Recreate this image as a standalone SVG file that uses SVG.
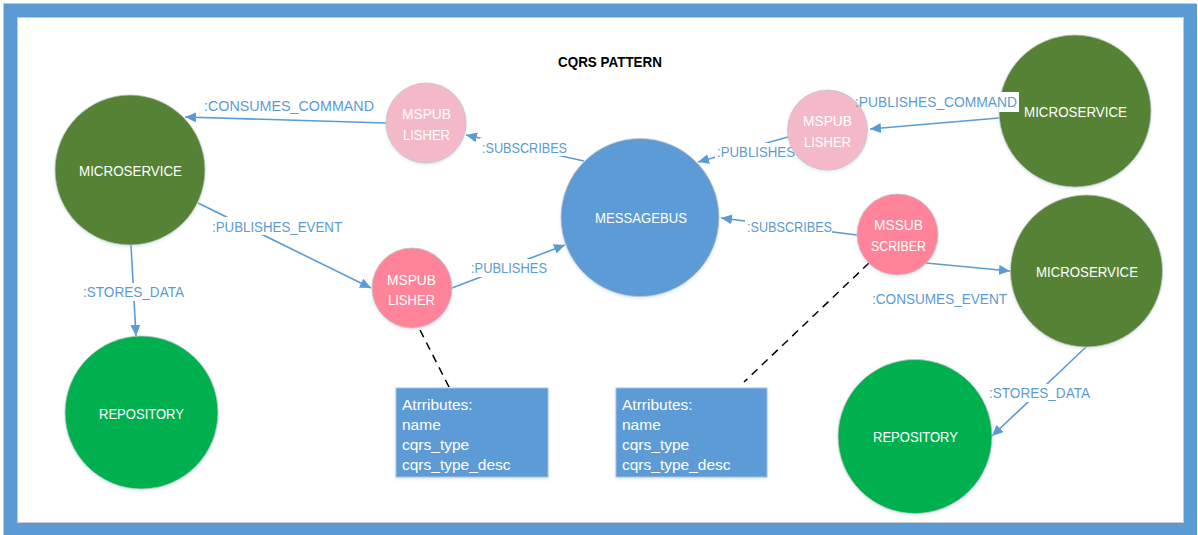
<svg xmlns="http://www.w3.org/2000/svg" width="1198" height="535" viewBox="0 0 1198 535">
  <defs>
    <style>
      .frame { fill: none; stroke: #5b9bd5; stroke-width: 13; }
      .hair { fill: none; stroke: #c9c9c9; stroke-width: 1; }
      .node { stroke: #c4c4c4; stroke-width: 0.8; filter: url(#shade); }
      .ms { fill: #548235; }
      .repo { fill: #00b050; }
      .bus { fill: #5b9bd5; }
      .pubLight { fill: #f4b9c8; }
      .pub { fill: #ff8399; }
      .ntext { font-family: "Liberation Sans", Arial, sans-serif; font-size: 15px; fill: #ffffff; text-anchor: middle; }
      .edge { fill: none; stroke: #5b9bd5; stroke-width: 1.6; marker-end: url(#arrow); }
      .dash { fill: none; stroke: #000000; stroke-width: 1.5; stroke-dasharray: 8 6; }
      .elabel { font-family: "Liberation Sans", Arial, sans-serif; font-size: 15.5px; fill: #5b9bd5; }
      .lbg { fill: #ffffff; }
      .box { fill: #5b9bd5; stroke: #a7c3e3; stroke-width: 1; filter: url(#shade); }
      .btext { font-family: "Liberation Sans", Arial, sans-serif; font-size: 15.5px; fill: #ffffff; }
      .title { font-family: "Liberation Sans", Arial, sans-serif; font-size: 15px; font-weight: bold; fill: #000000; text-anchor: middle; }
    </style>
    <filter id="shade" x="-20%" y="-20%" width="140%" height="140%">
      <feDropShadow dx="0" dy="1.5" stdDeviation="1.5" flood-color="#9dbbe0" flood-opacity="0.35"/>
    </filter>
    <marker id="arrow" markerUnits="userSpaceOnUse" markerWidth="12" markerHeight="10" refX="11" refY="5" orient="auto">
      <path d="M0,0 L11,5 L0,10 Z" fill="#5b9bd5"/>
    </marker>
  </defs>

  <rect width="1198" height="535" fill="#ffffff"/>

  <!-- outer frame -->
  <rect class="hair" x="3.5" y="3.5" width="1192" height="531"/>
  <rect class="frame" x="10.5" y="10.5" width="1180" height="519"/>
  <rect class="hair" x="17.5" y="17.5" width="1166" height="505"/>

  <text class="title" x="610" y="67" textLength="104" lengthAdjust="spacingAndGlyphs">CQRS PATTERN</text>

  <!-- connectors -->
  <g id="connectors">
    <line class="edge" x1="386" y1="123" x2="185" y2="117"/>
    <line class="edge" x1="584" y1="161" x2="466" y2="135"/>
    <line class="edge" x1="788" y1="137" x2="698" y2="162"/>
    <line class="edge" x1="999" y1="118" x2="870" y2="129"/>
    <line class="edge" x1="198" y1="203" x2="371" y2="288"/>
    <line class="edge" x1="131" y1="245" x2="136" y2="336"/>
    <line class="edge" x1="452" y1="288" x2="565" y2="245"/>
    <line class="edge" x1="857" y1="235" x2="721" y2="218"/>
    <line class="edge" x1="926" y1="263" x2="1010" y2="271"/>
    <line class="edge" x1="1086" y1="347" x2="992" y2="436"/>
    <line class="dash" x1="420" y1="330" x2="449" y2="387"/>
    <line class="dash" x1="869" y1="263" x2="744" y2="382"/>

    <!-- label backgrounds that break the lines -->
    <rect class="lbg" x="480" y="138" width="89" height="18"/>
    <rect class="lbg" x="715" y="143" width="72" height="17"/>
    <rect class="lbg" x="853" y="92" width="146" height="20"/>
    <rect class="lbg" x="210" y="217" width="134" height="18"/>
    <rect class="lbg" x="81" y="283" width="105" height="18"/>
    <rect class="lbg" x="469" y="259" width="80" height="18"/>
    <rect class="lbg" x="745" y="218" width="87" height="18"/>
    <rect class="lbg" x="987" y="384" width="105" height="18"/>

    <text class="elabel" x="204" y="111" textLength="170" lengthAdjust="spacingAndGlyphs">:CONSUMES_COMMAND</text>
    <text class="elabel" x="482" y="152.5" textLength="85" lengthAdjust="spacingAndGlyphs">:SUBSCRIBES</text>
    <text class="elabel" x="717" y="157" textLength="78" lengthAdjust="spacingAndGlyphs">:PUBLISHES</text>
    <text class="elabel" x="212" y="231.5" textLength="130" lengthAdjust="spacingAndGlyphs">:PUBLISHES_EVENT</text>
    <text class="elabel" x="83" y="297" textLength="101" lengthAdjust="spacingAndGlyphs">:STORES_DATA</text>
    <text class="elabel" x="471" y="273" textLength="76" lengthAdjust="spacingAndGlyphs">:PUBLISHES</text>
    <text class="elabel" x="747" y="232" textLength="85" lengthAdjust="spacingAndGlyphs">:SUBSCRIBES</text>
    <text class="elabel" x="872" y="304" textLength="135" lengthAdjust="spacingAndGlyphs">:CONSUMES_EVENT</text>
    <text class="elabel" x="989" y="398" textLength="101" lengthAdjust="spacingAndGlyphs">:STORES_DATA</text>
  </g>

  <!-- nodes -->
  <g id="ms-left">
    <circle class="node ms" cx="130" cy="170" r="75"/>
    <text class="ntext" x="130.5" y="176" textLength="103" lengthAdjust="spacingAndGlyphs">MICROSERVICE</text>
  </g>
  <g id="repo-left">
    <circle class="node repo" cx="141.5" cy="412.5" r="76.5"/>
    <text class="ntext" x="141.5" y="419" textLength="85" lengthAdjust="spacingAndGlyphs">REPOSITORY</text>
  </g>
  <g id="pub-top-left">
    <circle class="node pubLight" cx="426" cy="123" r="40"/>
    <text class="ntext" x="426.5" y="119" textLength="49" lengthAdjust="spacingAndGlyphs">MSPUB</text>
    <text class="ntext" x="426.5" y="139.5" textLength="47" lengthAdjust="spacingAndGlyphs">LISHER</text>
  </g>
  <g id="messagebus">
    <circle class="node bus" cx="640" cy="217.5" r="79"/>
    <text class="ntext" x="641" y="223" textLength="92" lengthAdjust="spacingAndGlyphs">MESSAGEBUS</text>
  </g>
  <g id="pub-top-right">
    <circle class="node pubLight" cx="827.5" cy="130" r="40"/>
    <text class="ntext" x="827.5" y="126" textLength="49" lengthAdjust="spacingAndGlyphs">MSPUB</text>
    <text class="ntext" x="827.5" y="146.5" textLength="47" lengthAdjust="spacingAndGlyphs">LISHER</text>
  </g>
  <g id="ms-top-right">
    <circle class="node ms" cx="1075" cy="111" r="76"/>
    <rect class="lbg" x="999" y="92" width="20" height="20"/>
    <text class="elabel" x="855" y="107" textLength="162" lengthAdjust="spacingAndGlyphs">:PUBLISHES_COMMAND</text>
    <text class="ntext" x="1075.5" y="117" textLength="103" lengthAdjust="spacingAndGlyphs">MICROSERVICE</text>
  </g>
  <g id="pub-middle">
    <circle class="node pub" cx="412" cy="288" r="40"/>
    <text class="ntext" x="411.5" y="284.5" textLength="49" lengthAdjust="spacingAndGlyphs">MSPUB</text>
    <text class="ntext" x="411.5" y="304.5" textLength="47" lengthAdjust="spacingAndGlyphs">LISHER</text>
  </g>
  <g id="sub-right">
    <circle class="node pub" cx="897.5" cy="234.5" r="40.5"/>
    <text class="ntext" x="898.5" y="230" textLength="49" lengthAdjust="spacingAndGlyphs">MSSUB</text>
    <text class="ntext" x="898.5" y="250.5" textLength="55" lengthAdjust="spacingAndGlyphs">SCRIBER</text>
  </g>
  <g id="ms-right">
    <circle class="node ms" cx="1086.5" cy="271" r="76"/>
    <text class="ntext" x="1087" y="276.5" textLength="102" lengthAdjust="spacingAndGlyphs">MICROSERVICE</text>
  </g>
  <g id="repo-right">
    <circle class="node repo" cx="915" cy="436.5" r="77"/>
    <text class="ntext" x="915.5" y="442" textLength="85" lengthAdjust="spacingAndGlyphs">REPOSITORY</text>
  </g>

  <g id="attrs-publisher">
    <rect class="box" x="396" y="388" width="152" height="89"/>
    <text class="btext" x="402" y="409.5">Atrributes:</text>
    <text class="btext" x="402" y="429.5">name</text>
    <text class="btext" x="402" y="449.5">cqrs_type</text>
    <text class="btext" x="402" y="469.5">cqrs_type_desc</text>
  </g>
  <g id="attrs-subscriber">
    <rect class="box" x="616" y="388" width="151" height="89"/>
    <text class="btext" x="622" y="409.5">Atrributes:</text>
    <text class="btext" x="622" y="429.5">name</text>
    <text class="btext" x="622" y="449.5">cqrs_type</text>
    <text class="btext" x="622" y="469.5">cqrs_type_desc</text>
  </g>
</svg>
